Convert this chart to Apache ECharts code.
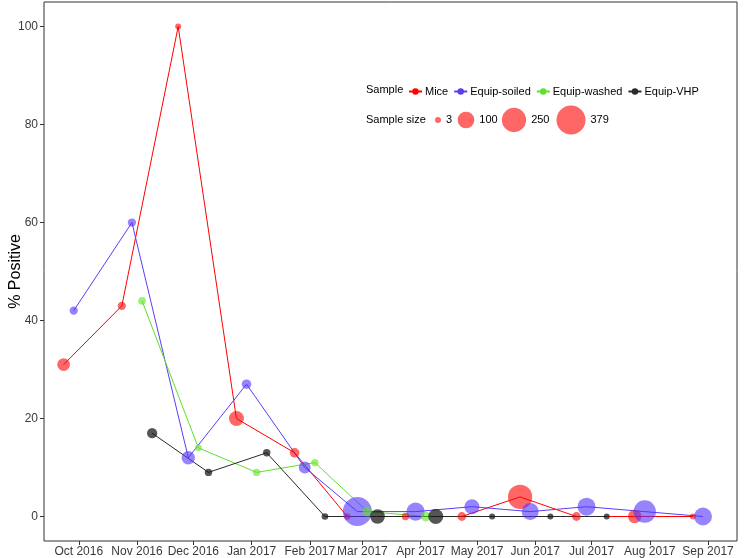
<!DOCTYPE html>
<html>
<head>
<meta charset="utf-8">
<script src="https://cdn.jsdelivr.net/npm/echarts@6/dist/echarts.min.js"></script>
<style>
html, body { margin: 0; padding: 0; background: #fff; }
#main { width: 745px; height: 558px; }
</style>
</head>
<body>
<div id="main"></div>
<script>
// data
var months = ['2016-10', '2016-11', '2016-12', '2017-01', '2017-02', '2017-03',
              '2017-04', '2017-05', '2017-06', '2017-07', '2017-08', '2017-09'];
var tickLabels = ['Oct 2016', 'Nov 2016', 'Dec 2016', 'Jan 2017', 'Feb 2017', 'Mar 2017',
                  'Apr 2017', 'May 2017', 'Jun 2017', 'Jul 2017', 'Aug 2017', 'Sep 2017'];
var yTicks = [0, 20, 40, 60, 80, 100];

var mice     = [31, 43, 100, 20, 13, 0, 0, 0, 4, 0, 0, 0];
var miceN    = [48, 12, 3, 75, 20, 5, 8, 15, 250, 15, 55, 3];
var soiled   = [42, 60, 12, 27, 10, 1, 1, 2, 1, 2, 1, 0];
var soiledN  = [12, 12, 55, 20, 40, 379, 125, 75, 104, 120, 208, 120];
var washed   = [null, 44, 14, 9, 11, 1, 0, null, null, null, null, null];
var washedN  = [null, 9, 5, 8, 8, 20, 23, null, null, null, null, null];
var vhp      = [null, 17, 9, 13, 0, 0, 0, 0, 0, 0, null, null];
var vhpN     = [null, 25, 8, 8, 5, 71, 75, 3, 3, 3, null, null];

var sizeBreaks = [3, 100, 250, 379];

var FONT = '"Liberation Sans", Arial, Helvetica, sans-serif';
var DAY = 24 * 3600 * 1000;

function monthTime(m) {
    var p = m.split('-');
    return new Date(+p[0], +p[1] - 1, 1).getTime();
}
var monthTimes = months.map(monthTime);

// area scale like ggplot scale_size: diameter from sqrt(n)
function sizeOf(n) {
    var lo = Math.sqrt(3), hi = Math.sqrt(379);
    return 6 + (Math.sqrt(n) - lo) * (29 - 6) / (hi - lo);
}

// dodge in days for the four groups
var dodge = [-8.06, -2.69, 2.69, 8.06];

function build(vals, ns, k) {
    var out = [];
    for (var i = 0; i < vals.length; i++) {
        if (vals[i] === null) continue;
        out.push([monthTimes[i] + dodge[k] * DAY, vals[i], ns[i]]);
    }
    return out;
}

var groups = [
    { name: 'Mice',         vals: mice,   ns: miceN,   line: '#FF0000', pt: 'rgba(255,0,0,0.6)' },
    { name: 'Equip-soiled', vals: soiled, ns: soiledN, line: '#5B3DF5', pt: 'rgba(80,50,250,0.6)' },
    { name: 'Equip-washed', vals: washed, ns: washedN, line: '#5FE02A', pt: 'rgba(90,230,30,0.6)' },
    { name: 'Equip-VHP',    vals: vhp,    ns: vhpN,    line: '#2a2a2a', pt: 'rgba(20,20,20,0.72)' }
];

var series = groups.map(function (g, k) {
    return {
        name: g.name,
        type: 'line',
        data: build(g.vals, g.ns, k),
        symbol: 'circle',
        showAllSymbol: true,
        symbolSize: function (v) { return sizeOf(v[2]); },
        lineStyle: { color: g.line, width: 1 },
        itemStyle: { color: g.pt },
        emphasis: { disabled: true },
        animation: false
    };
});

// size legend keys (legend layout only)
var keyX = [438, 466, 514, 571];
var sizeKeys = [
    { type: 'text', x: 366, y: 120, style: { text: 'Sample size', font: '11px ' + FONT, fill: '#000', verticalAlign: 'middle' } }
];
sizeBreaks.forEach(function (b, i) {
    var d = sizeOf(b);
    sizeKeys.push({ type: 'circle', shape: { cx: keyX[i], cy: 120, r: d / 2 }, style: { fill: 'rgba(255,0,0,0.6)' } });
    sizeKeys.push({ type: 'text', x: keyX[i] + d / 2 + 5, y: 120,
        style: { text: String(b), font: '11px ' + FONT, fill: '#000', verticalAlign: 'middle' } });
});

var chart = echarts.init(document.getElementById('main'), null, { renderer: 'canvas' });

chart.setOption({
    backgroundColor: '#fff',
    animation: false,
    grid: {
        left: 44, top: 2, right: 8, bottom: 17,
        outerBoundsMode: 'none', containLabel: false,
        show: true, borderColor: '#333', borderWidth: 1, backgroundColor: 'transparent'
    },
    xAxis: {
        type: 'value',
        min: new Date(2016, 8, 12, 12).getTime(),
        max: new Date(2017, 8, 16, 10).getTime(),
        axisLine: { show: false, onZero: false },
        axisTick: { show: true, length: 4, lineStyle: { color: '#333' }, customValues: monthTimes },
        axisLabel: {
            customValues: monthTimes,
            color: '#3a3a3a', fontSize: 12, fontFamily: FONT, margin: 5,
            formatter: function (v) {
                var i = monthTimes.indexOf(v);
                return i >= 0 ? tickLabels[i] : '';
            }
        },
        splitLine: { show: false }
    },
    yAxis: {
        type: 'value',
        min: -5, max: 105,
        name: '% Positive',
        nameLocation: 'middle',
        nameGap: 20,
        nameMoveOverlap: false,
        nameTextStyle: { fontSize: 16, fontFamily: FONT, color: '#000' },
        axisLine: { show: false, onZero: false },
        axisTick: { show: true, length: 4, lineStyle: { color: '#333' }, customValues: yTicks },
        axisLabel: { customValues: yTicks, color: '#3a3a3a', fontSize: 12, fontFamily: FONT, margin: 6 },
        splitLine: { show: false }
    },
    legend: {
        left: 408, top: 86, padding: 0,
        itemWidth: 13, itemHeight: 8, itemGap: 5,
        textStyle: { fontSize: 11, fontFamily: FONT, color: '#000', padding: [0, 0, 0, -2] },
        data: groups.map(function (g) {
            return { name: g.name, itemStyle: { color: g.line } };
        }),
        selectedMode: false
    },
    graphic: [
        { type: 'text', x: 366, y: 90, style: { text: 'Sample', font: '11px ' + FONT, fill: '#000', verticalAlign: 'middle' } }
    ].concat(sizeKeys),
    series: series
});
</script>
</body>
</html>
